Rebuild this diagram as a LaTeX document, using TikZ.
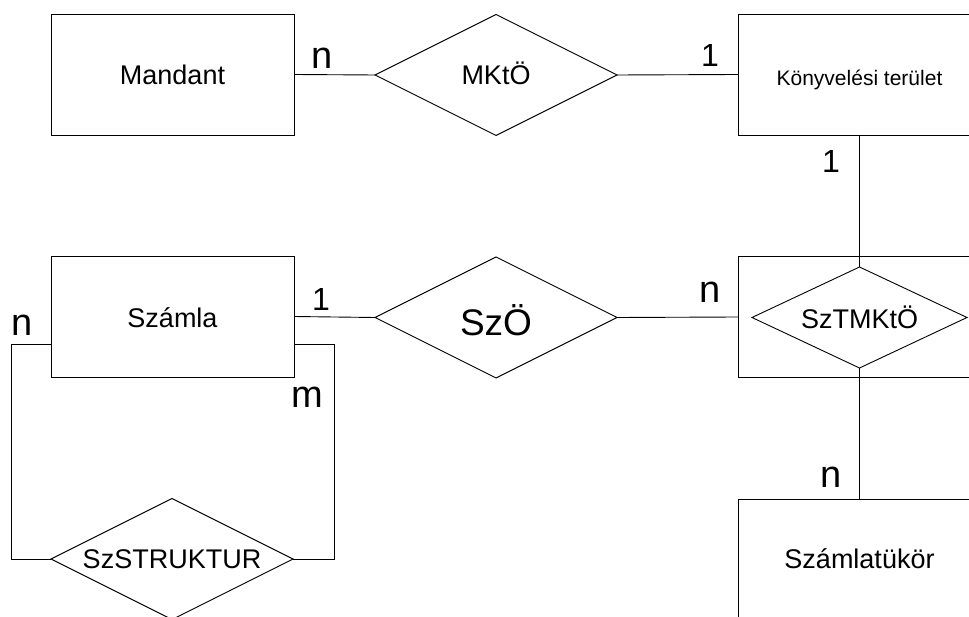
\documentclass[tikz,border=0pt]{standalone}
\usepackage{fontspec}
\setmainfont{Liberation Sans}
\usetikzlibrary{shapes.geometric}
\tikzset{
  every node/.style={inner sep=0pt, outer sep=0pt},
  ent/.style={draw, rectangle, minimum width=243pt, minimum height=121pt, font=\fontsize{27}{30}\selectfont, text depth=0pt},
  rel/.style={draw, diamond, aspect=2, minimum width=242pt, minimum height=121pt, font=\fontsize{27}{30}\selectfont, text depth=0pt},
  lbl/.style={font=\fontsize{38}{40}\selectfont},
  lblone/.style={font=\fontsize{32}{36}\selectfont},
  conn/.style={line width=0.9pt}
}
\begin{document}
\begin{tikzpicture}[x=1pt, y=-1pt, line width=0.9pt]
\useasboundingbox (0,0) rectangle (969,617);
\clip (0,0) rectangle (969,617);
% entities
\node[ent, text height=21pt] (mandant) at (172.5,74.5) {Mandant};
\node[ent, text height=23pt, font=\fontsize{21}{24}\selectfont] (konyv) at (859.5,74.5) {Könyvelési terület};
\node[ent, text height=21.6pt] (szamla) at (172.5,316.5) {Számla};
\node[ent] (sztbox) at (859.5,317) {};
\node[ent, text height=17.6pt] (sztukor) at (859.5,559.5) {Számlatükör};
% relationships
\node[rel, text height=20pt] (mkto) at (496,75) {MKtÖ};
\node[rel, text height=36.4pt, font=\fontsize{37}{40}\selectfont] (szo) at (496,317.5) {SzÖ};
\node[rel, text height=21.6pt, minimum width=215pt, minimum height=101pt] (sztmkto) at (859.5,317.5) {SzTMKtÖ};
\node[rel, text height=18.6pt] (szstr) at (172,559) {SzSTRUKTUR};
% connectors
\draw[conn] (mandant.east) -- (mkto.west);
\draw[conn] (mkto.east) -- (konyv.west);
\draw[conn] (konyv.south) -- (sztmkto.north);
\draw[conn] (szamla.east) -- (szo.west);
\draw[conn] (szo.east) -- (sztbox.west);
\draw[conn] (sztmkto.south) -- (sztukor.north);
\coordinate (loopy) at (0,344);
\coordinate (loopl) at (11,344);
\coordinate (loopr) at (334,344);
\draw[conn] (szamla.west |- loopy) -- (loopl) |- (szstr.west);
\draw[conn] (szamla.east |- loopy) -- (loopr) |- (szstr.east);
% cardinality labels
\node[lbl] (l1) at (322,58) {n};
\node[lblone] (l2) at (710,55) {1};
\node[lblone] (l3) at (831,161.5) {1};
\node[lblone] (l4) at (321,299) {1};
\node[lbl] (l5) at (710,292) {n};
\node[lbl] (l6) at (22.5,325) {n};
\node[lbl] (l7) at (307,397) {m};
\node[lbl] (l8) at (831,477) {n};
\end{tikzpicture}
\end{document}
